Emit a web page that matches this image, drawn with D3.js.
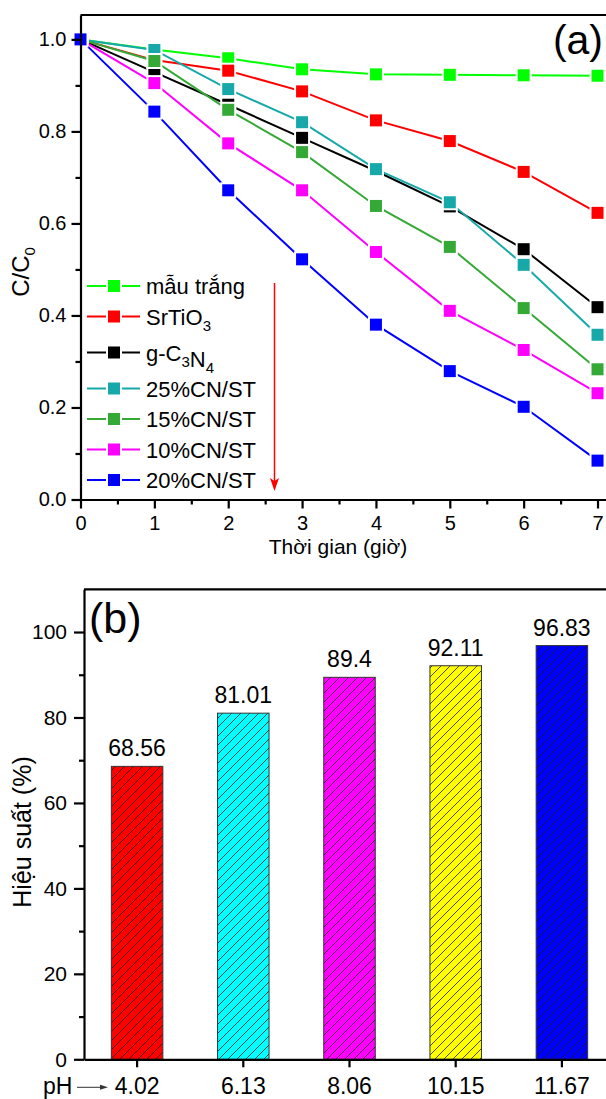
<!DOCTYPE html>
<html lang="vi">
<head>
<meta charset="utf-8">
<title>C/C0 theo thời gian và hiệu suất theo pH</title>
<style>
  body { margin: 0; background: #fff; }
  svg { display: block; font-family: "Liberation Sans", Arial, sans-serif; }
  .axis path, .axis line { stroke: #000; stroke-width: 2.2; }
  .axis text { fill: #000; }
</style>
</head>
<body>
<svg id="chart" width="606" height="1099"></svg>

<script src="https://d3js.org/d3.v7.min.js"></script>
<script>
  // ---- panel (a): C/C0 vs time
  const hours = [0, 1, 2, 3, 4, 5, 6, 7];
  const seriesNames = ["mẫu trắng", "SrTiO_3", " g-C_3N_4", "25%CN/ST", "15%CN/ST", "10%CN/ST", "20%CN/ST"];
  const seriesColors = ["#00ff00", "#ff0000", "#000000", "#17a9a9", "#35a935", "#ff00ff", "#0000ff"];
  const blank  = [1.0, 0.978, 0.959, 0.935, 0.924, 0.923, 0.922, 0.921];
  const srtio3 = [1.0, 0.955, 0.932, 0.887, 0.824, 0.779, 0.712, 0.623];
  const gc3n4  = [1.0, 0.929, 0.858, 0.786, 0.714, 0.637, 0.544, 0.418];
  const cn25   = [1.0, 0.977, 0.892, 0.820, 0.718, 0.646, 0.510, 0.358];
  const cn15   = [1.0, 0.953, 0.847, 0.755, 0.638, 0.549, 0.416, 0.283];
  const cn10   = [1.0, 0.905, 0.774, 0.672, 0.538, 0.410, 0.325, 0.231];
  const cn20   = [1.0, 0.843, 0.672, 0.522, 0.380, 0.279, 0.2015, 0.0845];
  const seriesValues = [blank, srtio3, gc3n4, cn25, cn15, cn10, cn20];

  // ---- panel (b): efficiency vs pH
  const phLabels = ["4.02", "6.13", "8.06", "10.15", "11.67"];
  const efficiency = [68.56, 81.01, 89.4, 92.11, 96.83];
  const barColors = ["#ff0000", "#00ffff", "#ff00ff", "#ffff00", "#0000ff"];

  const svg = d3.select("#chart");

  // writes "SrTiO_3" style labels with subscripts
  function formula(sel, str, subSize) {
    str.split(/(_\d)/).filter(s => s).forEach(part => {
      if (part[0] === "_") {
        sel.append("tspan").attr("font-size", subSize).attr("dy", 6).text(part.slice(1));
        sel.append("tspan").attr("dy", -6).text("");
      } else {
        sel.append("tspan").text(part);
      }
    });
  }

  // ================= panel (a) =================
  const xA = d3.scaleLinear().domain([0, 7.2]).range([80.5, 80.5 + 7.2 * 73.86]);
  const yA = d3.scaleLinear().domain([0, 1.053]).range([499.5, 15]);

  const gA = svg.append("g");

  // lines + markers
  const line = d3.line().x((d, i) => xA(hours[i])).y(d => yA(d));
  seriesValues.forEach((vals, k) => {
    gA.append("path")
      .attr("d", line(vals))
      .attr("fill", "none")
      .attr("stroke", seriesColors[k])
      .attr("stroke-width", 2);
    gA.selectAll(null)
      .data(vals)
      .enter()
      .append("rect")
      .attr("x", (d, i) => xA(hours[i]) - 6)
      .attr("y", d => yA(d) - 6)
      .attr("width", 12)
      .attr("height", 12)
      .attr("fill", seriesColors[k])
      .attr("stroke", "#fff")
      .attr("stroke-width", 4)
      .attr("paint-order", "stroke");
  });

  // axes
  gA.append("g").attr("class", "axis")
    .attr("transform", "translate(0,499.5)")
    .call(d3.axisBottom(xA).tickValues(hours).tickSize(9).tickSizeOuter(0).tickPadding(7).tickFormat(d3.format("d")))
    .call(g => g.selectAll("text").attr("font-size", 20));
  gA.append("g").attr("class", "axis")
    .attr("transform", "translate(0,499.5)")
    .call(d3.axisBottom(xA).tickValues(d3.range(0.5, 7, 1)).tickSize(5).tickFormat(""))
    .call(g => g.select(".domain").remove());
  gA.append("g").attr("class", "axis")
    .attr("transform", "translate(80.5,0)")
    .call(d3.axisLeft(yA).tickValues([0, 0.2, 0.4, 0.6, 0.8, 1.0]).tickSize(9).tickSizeOuter(0).tickPadding(5).tickFormat(d3.format(".1f")))
    .call(g => g.selectAll("text").attr("font-size", 20));
  gA.append("g").attr("class", "axis")
    .attr("transform", "translate(80.5,0)")
    .call(d3.axisLeft(yA).tickValues([0.1, 0.3, 0.5, 0.7, 0.9]).tickSize(5).tickFormat(""))
    .call(g => g.select(".domain").remove());
  // top frame
  gA.append("line")
    .attr("x1", 80.5).attr("x2", 606)
    .attr("y1", yA(1.053)).attr("y2", yA(1.053))
    .attr("stroke", "#000").attr("stroke-width", 2.2);

  // axis titles
  gA.append("text")
    .attr("x", 338).attr("y", 554)
    .attr("text-anchor", "middle").attr("font-size", 21)
    .text("Thời gian (giờ)");
  const yTitleA = gA.append("text")
    .attr("transform", "translate(29,272) rotate(-90)")
    .attr("text-anchor", "middle").attr("font-size", 24);
  formula(yTitleA, "C/C_0", 15);

  gA.append("text")
    .attr("x", 603).attr("y", 54)
    .attr("text-anchor", "end")
    .attr("font-size", 41)
    .text("(a)");

  // legend
  let rowY = 286;
  seriesNames.forEach((name, k) => {
    const row = gA.append("g").attr("transform", `translate(0,${rowY})`);
    row.append("line").attr("x1", 87).attr("x2", 140)
      .attr("stroke", seriesColors[k]).attr("stroke-width", 2);
    row.append("rect")
      .attr("x", 114 - 6).attr("y", -6).attr("width", 12).attr("height", 12)
      .attr("fill", seriesColors[k])
      .attr("stroke", "#fff").attr("stroke-width", 4).attr("paint-order", "stroke");
    const t = row.append("text").attr("x", 146).attr("y", 8).attr("font-size", 22);
    formula(t, name, 15);
    rowY += name.includes("_") ? 36 : 30.5;
  });

  // red arrow
  gA.append("line")
    .attr("x1", 274.5).attr("x2", 274.5).attr("y1", 283).attr("y2", 482)
    .attr("stroke", "#ff0000").attr("stroke-width", 1.5);
  gA.append("path")
    .attr("d", "M270,478 L274.5,491 L279,478 L274.5,481 Z")
    .attr("fill", "#ff0000");

  // ================= panel (b) =================
  const xB = d3.scaleBand().domain(phLabels).range([84, 615]).paddingInner(0.515).paddingOuter(0.2575);
  const yB = d3.scaleLinear().domain([0, 110]).range([1059.3, 589.3]);

  const gB = svg.append("g");

  const defs = svg.append("defs");
  defs.append("pattern")
    .attr("id", "hatch")
    .attr("patternUnits", "userSpaceOnUse")
    .attr("width", 9).attr("height", 9)
    .append("path")
    .attr("d", "M0,9 L9,0 M-2,2 L2,-2 M7,11 L11,7")
    .attr("stroke", "#1a1a1a").attr("stroke-width", 0.8);

  const bars = gB.selectAll(".bar")
    .data(efficiency)
    .enter()
    .append("g")
    .attr("class", "bar");
  bars.append("rect")
    .attr("x", (d, i) => xB(phLabels[i]))
    .attr("y", d => yB(d))
    .attr("width", xB.bandwidth())
    .attr("height", d => yB(0) - yB(d))
    .attr("fill", (d, i) => barColors[i]);
  bars.append("rect")
    .attr("x", (d, i) => xB(phLabels[i]))
    .attr("y", d => yB(d))
    .attr("width", xB.bandwidth())
    .attr("height", d => yB(0) - yB(d))
    .attr("fill", "url(#hatch)")
    .attr("stroke", "#333")
    .attr("stroke-width", 1);
  bars.append("text")
    .attr("x", (d, i) => xB(phLabels[i]) + xB.bandwidth() / 2)
    .attr("y", d => yB(d) - 10)
    .attr("text-anchor", "middle")
    .attr("font-size", 23)
    .text(d => d);

  gB.append("g").attr("class", "axis")
    .attr("transform", `translate(0,${yB(0)})`)
    .call(d3.axisBottom(xB).tickSize(8).tickSizeOuter(0).tickPadding(10))
    .call(g => g.selectAll("text").attr("font-size", 23));
  gB.append("g").attr("class", "axis")
    .attr("transform", "translate(84,0)")
    .call(d3.axisLeft(yB).tickValues([0, 20, 40, 60, 80, 100]).tickSize(10).tickSizeOuter(0).tickPadding(7))
    .call(g => g.selectAll("text").attr("font-size", 21));
  gB.append("g").attr("class", "axis")
    .attr("transform", "translate(84,0)")
    .call(d3.axisLeft(yB).tickValues([10, 30, 50, 70, 90]).tickSize(5).tickFormat(""))
    .call(g => g.select(".domain").remove());
  gB.append("line")
    .attr("x1", 84).attr("x2", 606)
    .attr("y1", yB(110)).attr("y2", yB(110))
    .attr("stroke", "#000").attr("stroke-width", 2.2);

  gB.append("text")
    .attr("transform", "translate(31,832) rotate(-90)")
    .attr("text-anchor", "middle").attr("font-size", 25)
    .text("Hiệu suất (%)");

  gB.append("text")
    .attr("x", 89).attr("y", 633)
    .attr("font-size", 43)
    .text("(b)");

  // "pH →" in front of the first tick label
  gB.append("text")
    .attr("x", 43).attr("y", yB(0) + 34.5)
    .attr("font-size", 23)
    .text("pH");
  gB.append("line")
    .attr("x1", 77).attr("x2", 102).attr("y1", yB(0) + 28).attr("y2", yB(0) + 28)
    .attr("stroke", "#333").attr("stroke-width", 1);
  gB.append("path")
    .attr("d", `M100,${yB(0) + 25.5} L108,${yB(0) + 28} L100,${yB(0) + 30.5} Z`)
    .attr("fill", "#333");
</script>
</body>
</html>
